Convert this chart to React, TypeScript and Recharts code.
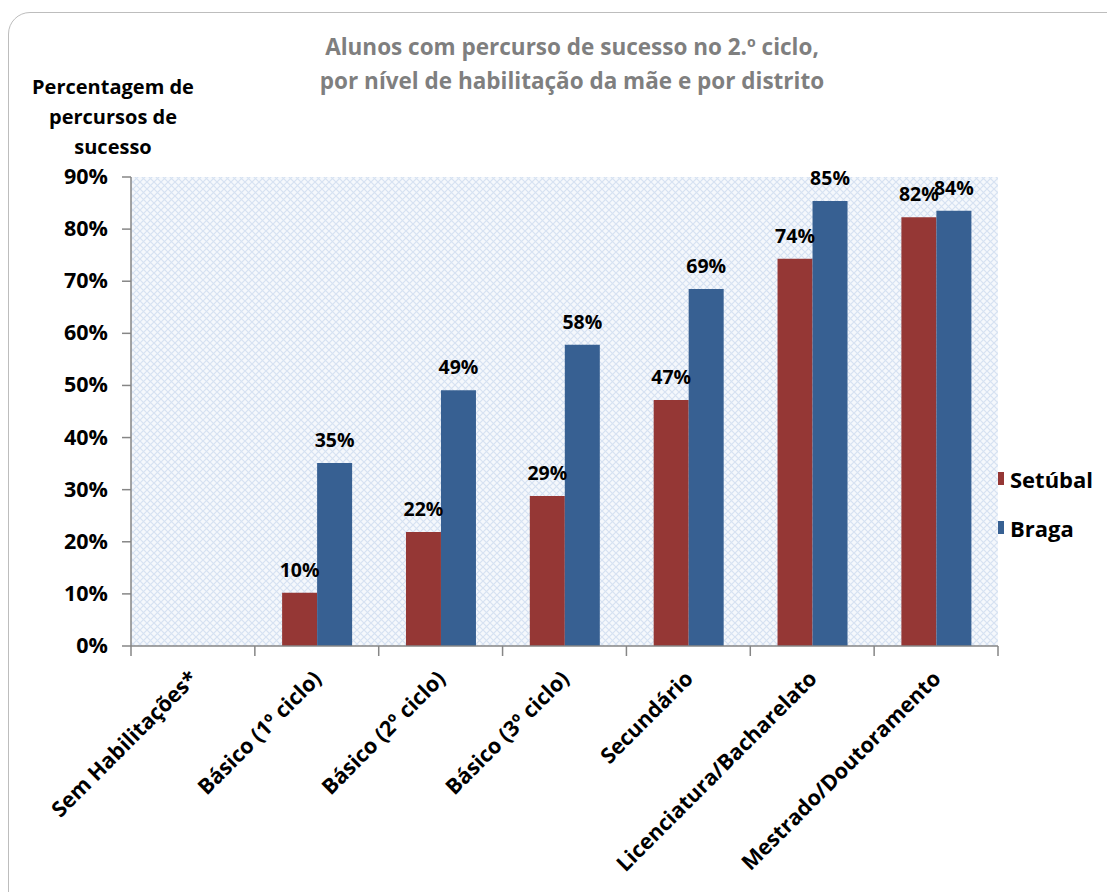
import { BarChart, Bar, XAxis, YAxis, CartesianGrid, LabelList } from "recharts";

const categories = [
  "Sem Habilitações*",
  "Básico (1º ciclo)",
  "Básico (2º ciclo)",
  "Básico (3º ciclo)",
  "Secundário",
  "Licenciatura/Bacharelato",
  "Mestrado/Doutoramento",
];
const setubal = [null, 10.2, 21.9, 28.8, 47.2, 74.3, 82.3];
const braga = [null, 35.1, 49.1, 57.8, 68.5, 85.4, 83.5];
const yTicks = [0, 10, 20, 30, 40, 50, 60, 70, 80, 90];

const data = categories.map((c, i) => ({ cat: c, setubal: setubal[i], braga: braga[i] }));

const FONT = "'Open Sans', Lato, sans-serif";
const RED = "#953735";
const BLUE = "#376092";
const AXIS = "#868686";

const pct = (v: any) => (v == null ? "" : `${Math.round(v)}%`);

// ticks sit between categories, like the original Excel chart
const XTick = (props: any) => {
  const { x, y, payload, index } = props;
  const half = payload.offset || 62;
  const ay = y - 12;
  return (
    <g>
      {index === 0 && <line x1={x - half} x2={x - half} y1={ay} y2={ay + 10} stroke={AXIS} strokeWidth={1.5} />}
      <line x1={x + half} x2={x + half} y1={ay} y2={ay + 10} stroke={AXIS} strokeWidth={1.5} />
      <text
        transform={`translate(${x + 6},${y + 22}) rotate(-45)`}
        textAnchor="end"
        fontFamily={FONT}
        fontWeight={700}
        fontSize={21.5}
        fill="#000"
      >
        {payload.value}
      </text>
    </g>
  );
};

const YTick = (props: any) => {
  const { x, y, payload } = props;
  return (
    <text
      x={x - 12}
      y={y}
      dy={7}
      textAnchor="end"
      fontFamily={FONT}
      fontWeight={700}
      fontSize={21.5}
      fill="#000"
    >
      {`${payload.value}%`}
    </text>
  );
};

export default function App() {
  return (
    <div style={{ position: "absolute", left: 0, top: 0, width: 1107, height: 892, overflow: "hidden", background: "#fff" }}>
      <div
        style={{
          position: "absolute", left: 8, top: 12, width: 1130, height: 920,
          border: "1.5px solid #bdbdbd", borderRadius: 22,
        }}
      />
      <div
        style={{
          position: "absolute", left: 172, top: 30, width: 800, textAlign: "center",
          fontFamily: FONT, fontWeight: 700, fontSize: 22.5, color: "#7f7f7f", lineHeight: "34px",
        }}
      >
        Alunos com percurso de sucesso no 2.º ciclo,
        <br />
        por nível de habilitação da mãe e por distrito
      </div>
      <div
        style={{
          position: "absolute", left: 13, top: 72, width: 200, textAlign: "center",
          fontFamily: FONT, fontWeight: 700, fontSize: 20, color: "#000", lineHeight: "30px",
        }}
      >
        Percentagem de
        <br />
        percursos de
        <br />
        sucesso
      </div>
      <div
        style={{
          position: "absolute", left: 991, top: 454, width: 116,
          fontFamily: FONT, fontWeight: 700, fontSize: 22, color: "#000",
        }}
      >
        {[["Setúbal", RED], ["Braga", BLUE]].map(([n, c]) => (
          <div key={n} style={{ display: "flex", alignItems: "center", height: 49, whiteSpace: "nowrap" }}>
            <span style={{ display: "inline-block", minWidth: 13, width: 13, height: 13, flexShrink: 0, background: c, marginRight: 6 }} />
            <span>{n}</span>
          </div>
        ))}
      </div>
      <BarChart
        width={1107}
        height={892}
        data={data}
        margin={{ top: 177, right: 109, left: 0, bottom: 46 }}
        barCategoryGap="22%"
        barGap={0}
        style={{ position: "absolute", left: 0, top: 0 }}
      >
        <defs>
          <pattern id="hatch" width="7" height="7" patternUnits="userSpaceOnUse">
            <rect width="7" height="7" fill="#f5f8fc" />
            <path d="M0,0 L7,7 M7,0 L0,7" stroke="#d6e2f2" strokeWidth="1.2" />
          </pattern>
        </defs>
        <CartesianGrid fill="url(#hatch)" stroke="none" />
        <XAxis
          dataKey="cat"
          interval={0}
          height={200}
          stroke={AXIS}
          strokeWidth={1.5}
          tickSize={10}
          tickLine={false}
          tick={<XTick />}
        />
        <YAxis
          width={131}
          domain={[0, 90]}
          ticks={yTicks}
          stroke={AXIS}
          strokeWidth={1.5}
          tickSize={9}
          tick={<YTick />}
        />
        <Bar dataKey="setubal" name="Setúbal" fill={RED} isAnimationActive={false}>
          <LabelList
            dataKey="setubal"
            position="top"
            offset={16}
            formatter={pct}
            style={{ fontFamily: FONT, fontWeight: 700, fontSize: 19.5, fill: "#000" }}
          />
        </Bar>
        <Bar dataKey="braga" name="Braga" fill={BLUE} isAnimationActive={false}>
          <LabelList
            dataKey="braga"
            position="top"
            offset={16}
            formatter={pct}
            style={{ fontFamily: FONT, fontWeight: 700, fontSize: 19.5, fill: "#000" }}
          />
        </Bar>
      </BarChart>
    </div>
  );
}
